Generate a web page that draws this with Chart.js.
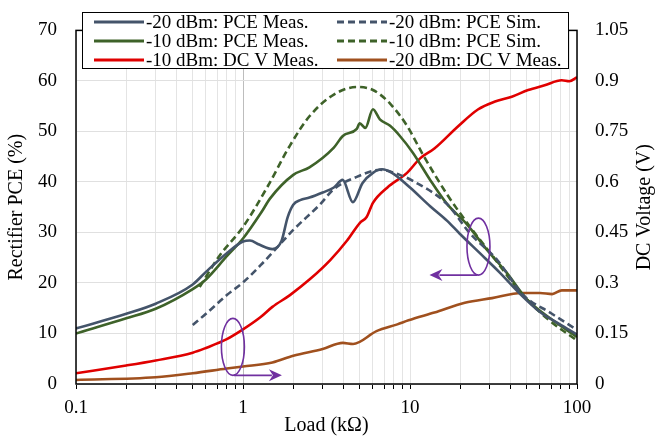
<!DOCTYPE html>
<html>
<head>
<meta charset="utf-8">
<script src="https://cdn.jsdelivr.net/npm/chart.js@4"></script>
<style>
body { margin: 0; background: #fff; }
#wrap { width: 655px; height: 436px; }
</style>
</head>
<body>
<div id="wrap"><canvas id="myChart" width="655" height="436"></canvas></div>
<script>
// axis ticks
var loadTicks = [0.1, 1, 10, 100]
var pceTicks = [0, 10, 20, 30, 40, 50, 60, 70]
var voltTicks = [0, 0.15, 0.3, 0.45, 0.6, 0.75, 0.9, 1.05]

// -20 dBm PCE measured (%)
var load20Meas = [0.1, 0.2, 0.3, 0.5, 0.6, 0.8, 1.0, 1.1, 1.25, 1.5, 1.7, 1.85, 2.0, 2.2, 2.5, 3.0, 3.5, 3.95, 4.55, 5.2, 6.0, 6.8, 7.8, 10, 13.2, 16.7, 19.8, 26.2, 34.6, 45.7, 59.8, 79, 100]
var pce20Meas = [11.0, 13.9, 15.9, 19.7, 22.2, 25.9, 28.2, 28.4, 27.6, 26.7, 28.3, 33.0, 35.5, 36.4, 36.9, 37.9, 38.9, 40.4, 36.0, 39.8, 41.8, 42.5, 41.8, 38.9, 35.2, 32.3, 29.8, 25.9, 22.0, 17.8, 14.3, 11.8, 9.8]

// -20 dBm PCE simulated (%)
var load20Sim = [0.5, 0.6, 0.8, 1.0, 1.3, 1.5, 2.0, 2.9, 3.5, 4.8, 6.6, 8.7, 10.4, 16.7, 22.9, 33.2, 47.7, 70, 100]
var pce20Sim = [11.7, 13.9, 17.6, 20.1, 23.8, 26.0, 30.5, 35.6, 38.6, 41.0, 42.4, 41.4, 40.2, 35.6, 29.8, 24.6, 17.6, 14.0, 10.7]

// -10 dBm PCE measured (%)
var load10Meas = [0.1, 0.2, 0.3, 0.5, 0.6, 0.8, 1.0, 1.3, 1.45, 2.0, 2.5, 3.5, 3.96, 4.8, 5.0, 5.4, 6.0, 6.6, 7.6, 8.7, 10.4, 13.2, 16.7, 21.8, 29, 38, 50, 69, 100]
var pce10Meas = [10.0, 13.0, 14.9, 18.8, 20.7, 25.3, 28.8, 34.2, 36.7, 41.4, 42.9, 46.8, 49.1, 50.5, 51.6, 50.7, 54.4, 52.4, 51.1, 49.1, 45.8, 40.4, 35.6, 31.7, 26.5, 22.0, 16.8, 13.0, 9.3]

// -10 dBm PCE simulated (%)
var load10Sim = [0.55, 0.72, 1.0, 1.41, 1.91, 2.5, 3.5, 4.8, 6.0, 7.6, 9.6, 12, 16.7, 22.9, 31.3, 45.7, 66, 100]
var pce10Sim = [19.2, 25.3, 31.1, 39.2, 47.2, 53.0, 57.3, 58.8, 58.2, 55.5, 51.1, 45.3, 37.5, 31.1, 25.3, 18.2, 13.0, 8.6]

// -10 dBm DC voltage measured (V)
var loadV10 = [0.1, 0.2, 0.3, 0.5, 0.6, 0.8, 1.0, 1.27, 1.5, 1.91, 2.5, 3.33, 4.2, 5.0, 5.5, 6.0, 7.3, 9.6, 11.5, 14, 19.5, 25.5, 32, 40.7, 51, 64, 81, 90, 100]
var v10 = [0.032, 0.055, 0.070, 0.093, 0.107, 0.133, 0.162, 0.198, 0.229, 0.264, 0.310, 0.368, 0.426, 0.478, 0.496, 0.538, 0.583, 0.627, 0.670, 0.699, 0.766, 0.815, 0.838, 0.853, 0.873, 0.887, 0.902, 0.899, 0.911]

// -20 dBm DC voltage measured (V)
var loadV20 = [0.1, 0.3, 0.5, 0.8, 1.0, 1.5, 2.0, 3.0, 3.96, 4.56, 6.3, 8.4, 9.8, 14, 21.3, 31, 46.6, 60, 71, 81, 100]
var v20 = [0.012, 0.020, 0.032, 0.046, 0.052, 0.064, 0.084, 0.104, 0.122, 0.119, 0.157, 0.177, 0.189, 0.212, 0.241, 0.255, 0.270, 0.270, 0.267, 0.278, 0.278]

var serif = "'Times New Roman', 'Liberation Serif', serif"
Chart.defaults.font.family = serif
Chart.defaults.color = '#000'

function pts(xs, ys) {
  return xs.map((x, i) => ({x: x, y: ys[i]}))
}

// 1..9 in every decade for the log grid
var gridLoads = []
for (var i = 0; i < loadTicks.length - 1; i++) {
  for (var k = 1; k < 10; k++) gridLoads.push(loadTicks[i] * k)
}
gridLoads.push(loadTicks[loadTicks.length - 1])

function line(label, data, color, axis, dashed) {
  return {
    label: label,
    data: data,
    borderColor: color,
    backgroundColor: color,
    borderWidth: 2.6,
    borderDash: dashed ? [7, 4] : [],
    pointRadius: 0,
    cubicInterpolationMode: 'monotone',
    yAxisID: axis,
    fill: false
  }
}

var blueGrey = '#44546A'
var green = '#3E6229'
var red = '#E00000'
var brown = '#A0501E'

var overlay = {
  id: 'overlay',
  afterDraw(chart) {
    var ctx = chart.ctx
    var a = chart.chartArea
    var sx = chart.scales.x, sy = chart.scales.y
    ctx.save()

    // plot frame
    ctx.strokeStyle = '#000'
    ctx.lineWidth = 1.5
    ctx.strokeRect(a.left, a.top, a.right - a.left, a.bottom - a.top)

    // callouts
    ctx.strokeStyle = '#7030A0'
    ctx.fillStyle = '#7030A0'
    ctx.lineWidth = 1.6
    var callouts = [
      {load: 0.87, pce: 7.35, dir: 1},
      {load: 25.7, pce: 27.2, dir: -1}
    ]
    callouts.forEach(c => {
      var cx = sx.getPixelForValue(c.load), cy = sy.getPixelForValue(c.pce)
      ctx.beginPath()
      ctx.ellipse(cx, cy, 11.5, 28.5, 0, 0, Math.PI * 2)
      ctx.stroke()
      var by = cy + 28.5
      var tip = cx + c.dir * 49
      ctx.beginPath()
      ctx.moveTo(cx + c.dir * 1, by)
      ctx.lineTo(tip - c.dir * 10, by)
      ctx.stroke()
      ctx.beginPath()
      ctx.moveTo(tip, by)
      ctx.lineTo(tip - c.dir * 13, by - 6)
      ctx.lineTo(tip - c.dir * 9, by)
      ctx.lineTo(tip - c.dir * 13, by + 6)
      ctx.closePath()
      ctx.fill()
    })

    // legend
    var lx = 82, ly = 12, lw = 486, lh = 56
    ctx.fillStyle = '#fff'
    ctx.fillRect(lx, ly, lw, lh)
    ctx.strokeStyle = '#000'
    ctx.lineWidth = 1
    ctx.strokeRect(lx + 0.5, ly + 0.5, lw, lh)
    ctx.font = '19px ' + serif
    ctx.textBaseline = 'middle'
    ctx.fillStyle = '#000'
    chart.data.datasets.forEach((ds, i) => {
      var col = i % 2, row = Math.floor(i / 2)
      var x0 = col ? 337 : 94
      var y0 = 22 + row * 19
      ctx.strokeStyle = ds.borderColor
      ctx.lineWidth = 3
      ctx.setLineDash(ds.borderDash)
      ctx.beginPath()
      ctx.moveTo(x0, y0)
      ctx.lineTo(x0 + 50, y0)
      ctx.stroke()
      ctx.setLineDash([])
      ctx.fillText(ds.label, x0 + 52, y0 + 1)
    })

    // right axis title, reading bottom to top
    ctx.translate(645, (a.top + a.bottom) / 2)
    ctx.rotate(-Math.PI / 2)
    ctx.textAlign = 'center'
    ctx.font = '20px ' + serif
    ctx.fillText('DC Voltage (V)', 0, 0)
    ctx.restore()
  }
}

var ctx = document.getElementById('myChart').getContext('2d')
var chart = new Chart(ctx, {
  type: 'line',
  data: {
    datasets: [
      line('-20 dBm: PCE Meas.', pts(load20Meas, pce20Meas), blueGrey, 'y', false),
      line('-20 dBm: PCE Sim.', pts(load20Sim, pce20Sim), blueGrey, 'y', true),
      line('-10 dBm: PCE Meas.', pts(load10Meas, pce10Meas), green, 'y', false),
      line('-10 dBm: PCE Sim.', pts(load10Sim, pce10Sim), green, 'y', true),
      line('-10 dBm: DC V Meas.', pts(loadV10, v10), red, 'y2', false),
      line('-20 dBm: DC V Meas.', pts(loadV20, v20), brown, 'y2', false)
    ]
  },
  options: {
    responsive: false,
    animation: false,
    layout: { padding: { top: 22, left: 0, right: 0, bottom: 0 } },
    plugins: {
      legend: { display: false },
      tooltip: { enabled: false }
    },
    scales: {
      x: {
        type: 'logarithmic',
        min: 0.1,
        max: 100,
        afterBuildTicks: s => { s.ticks = gridLoads.map(v => ({value: v})) },
        afterFit: s => { s.height = 52 },
        border: { display: false },
        grid: {
          color: c => (c.tick && c.tick.value === 1) ? '#bdbdbd' : '#e4e4e4',
          tickColor: '#000',
          tickLength: 5,
          lineWidth: 1
        },
        ticks: {
          autoSkip: false,
          maxRotation: 0,
          padding: 8,
          font: { size: 19 },
          callback: v => loadTicks.indexOf(v) >= 0 ? String(v) : ''
        },
        title: {
          display: true,
          text: 'Load (kΩ)',
          font: { size: 20, lineHeight: 1 },
          padding: 0
        }
      },
      y: {
        position: 'left',
        min: 0,
        max: 70,
        afterBuildTicks: s => { s.ticks = pceTicks.map(v => ({value: v})) },
        afterFit: s => { s.width = 76 },
        border: { display: false },
        grid: { color: '#e0e0e0', drawTicks: false },
        ticks: { padding: 19, font: { size: 19 } },
        title: {
          display: true,
          text: 'Rectifier PCE (%)',
          font: { size: 20 },
          padding: 5
        }
      },
      y2: {
        position: 'right',
        min: 0,
        max: 1.05,
        afterBuildTicks: s => { s.ticks = voltTicks.map(v => ({value: v})) },
        afterFit: s => { s.width = 78 },
        border: { display: false },
        grid: { drawOnChartArea: false, drawTicks: false },
        ticks: {
          padding: 18,
          font: { size: 19 },
          callback: v => String(+v.toFixed(2))
        }
      }
    }
  },
  plugins: [overlay]
})
</script>
</body>
</html>
